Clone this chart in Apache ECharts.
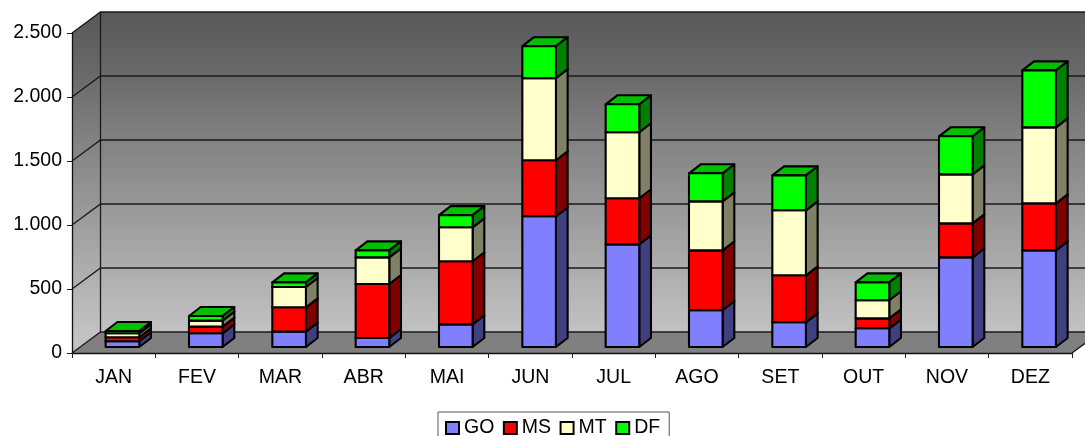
<!DOCTYPE html>
<html>
<head>
<meta charset="utf-8">
<style>html,body{margin:0;padding:0;background:#fff}#c{width:1085px;height:436px}</style>
<script src="https://cdn.jsdelivr.net/npm/echarts@6/dist/echarts.min.js"></script>
</head>
<body>
<div id="c"></div>
<script>
const categories = ['JAN','FEV','MAR','ABR','MAI','JUN','JUL','AGO','SET','OUT','NOV','DEZ'];
const GO = [45,107,120,70,177,1021,802,287,193,146,700,755];
const MS = [31,52,190,422,493,438,360,468,367,78,266,367];
const MT = [31,47,159,208,265,641,516,383,508,141,383,594];
const DF = [18,36,36,55,95,250,218,219,273,140,297,445];
const yTicks = [0,500,1000,1500,2000,2500];
const names = ['GO','MS','MT','DF'];
const values = [GO,MS,MT,DF];
const frontColors = ['#8080ff','#ff0000','#ffffcc','#00ff00'];
const sideColors = ['#404080','#800000','#808066','#008000'];
const topColors = ['#6060c0','#c00000','#c0c099','#00c000'];

const WALL_DX = 28.5, WALL_DY = -21;
const BAR_SHIFT_X = 8.8, BAR_SHIFT_Y = -6, BAR_HALF = 16.8, BAR_DX = 11.7, BAR_DY = -9;

const fmt = v => v === 0 ? '0' : String(v).replace(/(\d)(\d{3})$/, '$1.$2');

function renderWalls(params, api) {
  const band = api.size([1, 0])[0];
  const xL = api.coord([0, 0])[0] - band / 2;
  const xR = api.coord([categories.length - 1, 0])[0] + band / 2;
  const yOf = v => api.coord([0, v])[1];
  const y0 = yOf(0), yT = yOf(yTicks[yTicks.length - 1]);
  const grad = new echarts.graphic.LinearGradient(0, yT + WALL_DY, 0, y0 + WALL_DY, [
    {offset: 0, color: '#585858'},
    {offset: 0.2, color: '#6a6a6a'},
    {offset: 0.4, color: '#828282'},
    {offset: 1, color: '#c2c2c2'}
  ], true);
  const lineStyle = {stroke: '#1a1a1a', lineWidth: 1.3, fill: null};
  const children = [
    {type: 'polygon', shape: {points: [[xL + WALL_DX, yT + WALL_DY], [xR + WALL_DX, yT + WALL_DY], [xR + WALL_DX, y0 + WALL_DY], [xL + WALL_DX, y0 + WALL_DY]]}, style: {fill: grad}},
    {type: 'polygon', shape: {points: [[xL, yT], [xL + WALL_DX, yT + WALL_DY], [xL + WALL_DX, y0 + WALL_DY], [xL, y0]]}, style: {fill: grad}},
    {type: 'polygon', shape: {points: [[xL, y0], [xL + WALL_DX, y0 + WALL_DY], [xR + WALL_DX, y0 + WALL_DY], [xR, y0]]}, style: {fill: '#808080'}}
  ];
  yTicks.forEach(v => {
    const y = yOf(v);
    children.push({type: 'polyline', shape: {points: [[xL, y], [xL + WALL_DX, y + WALL_DY], [xR + WALL_DX, y + WALL_DY]]}, style: lineStyle});
  });
  children.push({type: 'line', shape: {x1: xL + WALL_DX, y1: yT + WALL_DY, x2: xL + WALL_DX, y2: y0 + WALL_DY}, style: lineStyle});
  children.push({type: 'line', shape: {x1: xR, y1: y0, x2: xR + WALL_DX, y2: y0 + WALL_DY}, style: lineStyle});
  return {type: 'group', children};
}

function renderSegment(seriesIdx) {
  return function (params, api) {
    const cat = api.value(0), lo = api.value(1), hi = api.value(2);
    const cx = api.coord([cat, 0])[0] + BAR_SHIFT_X;
    const x1 = cx - BAR_HALF, x2 = cx + BAR_HALF;
    const yLo = api.coord([cat, lo])[1] + BAR_SHIFT_Y;
    const yHi = api.coord([cat, hi])[1] + BAR_SHIFT_Y;
    const edge = {stroke: '#000', lineWidth: 2.1, lineJoin: 'round'};
    return {type: 'group', children: [
      {type: 'polygon', shape: {points: [[x1, yHi], [x2, yHi], [x2 + BAR_DX, yHi + BAR_DY], [x1 + BAR_DX, yHi + BAR_DY]]}, style: Object.assign({fill: topColors[seriesIdx]}, edge)},
      {type: 'polygon', shape: {points: [[x2, yLo], [x2 + BAR_DX, yLo + BAR_DY], [x2 + BAR_DX, yHi + BAR_DY], [x2, yHi]]}, style: Object.assign({fill: sideColors[seriesIdx]}, edge)},
      {type: 'polygon', shape: {points: [[x1, yLo], [x2, yLo], [x2, yHi], [x1, yHi]]}, style: Object.assign({fill: frontColors[seriesIdx]}, edge)}
    ]};
  };
}

const series = [{
  type: 'custom', name: 'walls', silent: true, z: 1, clip: false,
  data: [[0, 0]], encode: {x: 0, y: 1}, renderItem: renderWalls
}];
const running = categories.map(() => 0);
values.forEach((arr, s) => {
  const data = arr.map((v, i) => {
    const row = [i, running[i], running[i] + v];
    running[i] += v;
    return row;
  });
  series.push({
    type: 'custom', name: names[s], z: 5, clip: false,
    itemStyle: {color: frontColors[s]},
    encode: {x: 0, y: 2}, data, renderItem: renderSegment(s)
  });
});

const font = {fontFamily: '"Liberation Sans", Arial, sans-serif', fontSize: 19.5, color: '#000'};
const chart = echarts.init(document.getElementById('c'), null, {renderer: 'canvas'});
chart.setOption({
  animation: false,
  backgroundColor: '#fff',
  grid: {left: 72, top: 33, width: 1000, height: 320, containLabel: false},
  xAxis: {
    type: 'category', data: categories, z: 3,
    axisLine: {show: true, lineStyle: {color: '#111', width: 1.3}},
    axisTick: {show: true, alignWithLabel: false, length: 5, lineStyle: {color: '#222', width: 1}},
    axisLabel: Object.assign({margin: 15, interval: 0}, font),
    splitLine: {show: false}
  },
  yAxis: {
    type: 'value', min: 0, max: 2500, interval: 500, z: 3,
    axisLine: {show: true, lineStyle: {color: '#111', width: 1.3}},
    axisTick: {show: true, length: 5, lineStyle: {color: '#222', width: 1}},
    axisLabel: Object.assign({margin: 10, formatter: fmt, padding: [2, 0, 0, 0]}, font),
    splitLine: {show: false}
  },
  legend: {
    left: 438, top: 412,
    data: names.map((n, s) => ({name: n, icon: 'rect', itemStyle: {color: frontColors[s], borderColor: '#000', borderWidth: 2}})),
    itemWidth: 13, itemHeight: 12, itemGap: 8.5,
    padding: [6, 9, 8, 7],
    backgroundColor: '#fff', borderColor: '#555', borderWidth: 1,
    selectedMode: false,
    textStyle: Object.assign({}, font, {padding: [4, 0, 0, 0]})
  },
  tooltip: {show: false},
  series
});
</script>
</body>
</html>
